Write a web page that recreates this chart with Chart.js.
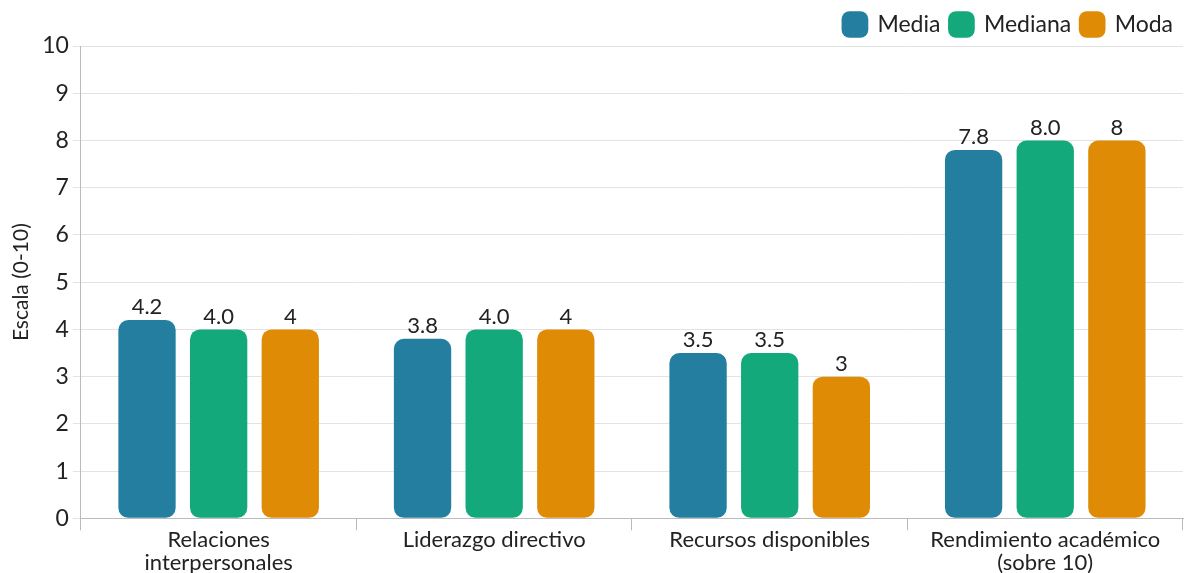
<!DOCTYPE html>
<html>
<head>
<meta charset="utf-8">
<script src="https://cdn.jsdelivr.net/npm/chart.js@4/dist/chart.umd.min.js"></script>
<style>
  html, body { margin: 0; padding: 0; background: #fff; }
  #wrap { width: 1186px; height: 573px; }
</style>
</head>
<body>
<div id="wrap"><canvas id="chart"></canvas></div>
<script>
var categories = [["Relaciones", "interpersonales"], "Liderazgo directivo", "Recursos disponibles", ["Rendimiento académico", "(sobre 10)"]];
var media = [4.2, 3.8, 3.5, 7.8];
var mediana = [4.0, 4.0, 3.5, 8.0];
var moda = [4, 4, 3, 8];
var mediaLabels = ["4.2", "3.8", "3.5", "7.8"];
var medianaLabels = ["4.0", "4.0", "3.5", "8.0"];
var modaLabels = ["4", "4", "3", "8"];
var yTicks = [0, 1, 2, 3, 4, 5, 6, 7, 8, 9, 10];

Chart.defaults.font.family = "Lato, 'Noto Sans', sans-serif";
Chart.defaults.color = "#222";

// draws the number above each bar
var valueLabels = {
    id: "valueLabels",
    afterDatasetsDraw: function(chart) {
        var ctx = chart.ctx;
        ctx.save();
        ctx.font = "22px Lato";
        ctx.fillStyle = "#222";
        ctx.textAlign = "center";
        ctx.textBaseline = "bottom";
        chart.data.datasets.forEach(function(ds, i) {
            var meta = chart.getDatasetMeta(i);
            meta.data.forEach(function(bar, j) {
                ctx.fillText(ds.valueText[j], bar.x, bar.y - 2);
            });
        });
        ctx.restore();
    }
};

new Chart(document.getElementById("chart").getContext("2d"), {
    type: "bar",
    data: {
        labels: categories,
        datasets: [
            { label: "Media", data: media, valueText: mediaLabels, backgroundColor: "#237ea0" },
            { label: "Mediana", data: mediana, valueText: medianaLabels, backgroundColor: "#13a97b" },
            { label: "Moda", data: moda, valueText: modaLabels, backgroundColor: "#e08b06" }
        ]
    },
    options: {
        responsive: true,
        maintainAspectRatio: false,
        animation: false,
        layout: { padding: { left: 5, right: 3, top: 3, bottom: 0 } },
        datasets: {
            bar: {
                categoryPercentage: 0.78,
                barPercentage: 0.8,
                borderRadius: 10,
                borderSkipped: false
            }
        },
        plugins: {
            legend: {
                position: "top",
                align: "end",
                labels: {
                    usePointStyle: true,
                    pointStyle: "rectRounded",
                    boxWidth: 22,
                    boxHeight: 22,
                    padding: 10,
                    font: { size: 23 },
                    color: "#222"
                }
            },
            tooltip: { enabled: false }
        },
        scales: {
            x: {
                grid: {
                    display: true,
                    drawOnChartArea: false,
                    drawTicks: true,
                    tickLength: 12,
                    color: "#bbb",
                    offset: true
                },
                border: { color: "#bbb" },
                ticks: { font: { size: 22, lineHeight: 1.06 }, color: "#222", padding: -2 }
            },
            y: {
                min: 0,
                max: 10,
                afterBuildTicks: function(axis) {
                    axis.ticks = yTicks.map(function(v) { return { value: v }; });
                },
                grid: { color: "#e3e3e3", tickLength: 8 },
                border: { color: "#bbb" },
                ticks: { font: { size: 23 }, color: "#222", padding: 4 },
                title: { display: true, text: "Escala (0-10)", font: { size: 21 }, color: "#222", padding: 4 }
            }
        }
    },
    plugins: [valueLabels]
});
</script>
</body>
</html>
